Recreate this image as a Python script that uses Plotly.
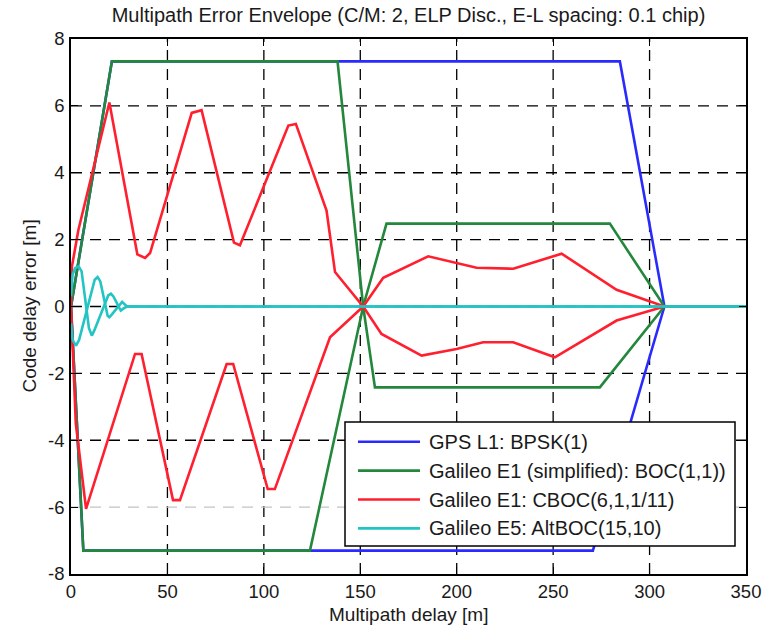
import plotly.graph_objects as go

# ---- multipath error envelopes (multipath delay [m] -> code delay error [m]) ----
# GPS L1: BPSK(1)
gps_delay_up = [0, 21.2, 284.6, 307.7, 350]
gps_err_up = [0, 7.33, 7.33, 0, 0]
gps_delay_lo = [0, 6.4, 270.6, 307.7, 350]
gps_err_lo = [0, -7.3, -7.3, 0, 0]

# Galileo E1 (simplified): BOC(1,1)
boc_delay_up = [0, 21.2, 138.2, 151.5, 157.6, 274.2, 307.7, 350]
boc_err_up = [0, 7.33, 7.33, 0, -2.42, -2.42, 0, 0]
boc_delay_lo = [0, 6.4, 123.9, 151.5, 163.6, 279.4, 307.7, 350]
boc_err_lo = [0, -7.3, -7.3, 0, 2.48, 2.48, 0, 0]

# Galileo E1: CBOC(6,1,1/11)
cboc_delay_up = [0, 0.5, 3.8, 19.9, 34.4, 38.4, 41.0, 62.6, 67.7, 84.5, 87.6,
                 112.7, 116.6, 132.5, 136.9, 151.5, 161.9, 185.2, 210.3, 229.3,
                 254.4, 282.9, 307.7, 350]
cboc_err_up = [0, 1.2, 2.28, 6.1, 1.56, 1.45, 1.6, 5.79, 5.87, 1.91, 1.83,
               5.41, 5.46, 2.87, 1.03, 0, 0.86, 1.5, 1.16, 1.13,
               1.58, 0.5, 0, 0]
cboc_delay_lo = [0, 0.5, 2.5, 7.8, 33.2, 36.6, 52.9, 56.5, 80.7, 84.1, 102.0,
                 105.7, 134.3, 151.5, 161.0, 181.8, 199.9, 213.7, 229.3, 250.9,
                 282.9, 307.7, 350]
cboc_err_lo = [0, -0.8, -3.5, -6.05, -1.42, -1.42, -5.79, -5.79, -1.72, -1.72, -5.46,
               -5.46, -0.92, 0, -0.82, -1.47, -1.27, -1.07, -1.07, -1.52,
               -0.42, 0, 0]

# Galileo E5: AltBOC(15,10)
alt_delay_up = [0, 0.8, 2.2, 4.0, 5.5, 9.3, 10.8, 12.2, 19.3, 20.7, 22.0, 25.8, 27.5, 29.0, 350]
alt_err_up = [0.3, 0.95, 1.15, 1.2, 1.05, -0.65, -0.87, -0.7, 0.33, 0.38, 0.3, -0.12, -0.05, 0, 0]
alt_delay_lo = [0, 0.8, 2.6, 4.2, 12.3, 13.8, 15.2, 19.0, 19.9, 21.0, 26.5, 28.0, 29.0, 350]
alt_err_lo = [-0.5, -1.0, -1.17, -1.0, 0.8, 0.88, 0.75, -0.28, -0.32, -0.25, 0.14, 0.05, 0, 0]

series_names = [
    "GPS L1: BPSK(1)",
    "Galileo E1 (simplified): BOC(1,1))",
    "Galileo E1: CBOC(6,1,1/11)",
    "Galileo E5: AltBOC(15,10)",
]
series_colors = ["#2a2aff", "#23873c", "#ff1f2e", "#22c4c4"]
envelopes = [
    ((gps_delay_up, gps_err_up), (gps_delay_lo, gps_err_lo)),
    ((boc_delay_up, boc_err_up), (boc_delay_lo, boc_err_lo)),
    ((cboc_delay_up, cboc_err_up), (cboc_delay_lo, cboc_err_lo)),
    ((alt_delay_up, alt_err_up), (alt_delay_lo, alt_err_lo)),
]

x_ticks = list(range(0, 351, 50))
y_ticks = list(range(-8, 9, 2))
x_tick_text = [str(v) for v in x_ticks]
y_tick_text = [str(v) for v in y_ticks]  # plain hyphen-minus labels

# ---- page geometry ----
W, H = 764, 628
ML, MR, MT, MB = 71, 18, 39, 54
PW, PH = W - ML - MR, H - MT - MB


def fx(xp):
    """pixel column -> paper x"""
    return (xp - ML) / PW


def fy(yp):
    """pixel row -> paper y"""
    return (H - MB - yp) / PH


FONT = "Liberation Sans, Arial, Helvetica, sans-serif"
TXT = "#1a1a1a"

fig = go.Figure()
for name, color, env in zip(series_names, series_colors, envelopes):
    for xs, ys in env:
        fig.add_trace(go.Scatter(
            x=xs, y=ys, mode="lines", name=name, legendgroup=name,
            showlegend=False, line=dict(color=color, width=2.6),
            hoverinfo="skip",
        ))

shapes = []
# dashed grid
for xv in x_ticks[1:-1]:
    shapes.append(dict(type="line", layer="below", xref="x", yref="paper",
                       x0=xv, x1=xv, y0=0, y1=1,
                       line=dict(color="black", width=1.3, dash="11px,8px")))
for yv in y_ticks[1:-1]:
    col = "#c4c4c4" if yv == -6 else "black"
    shapes.append(dict(type="line", layer="below", xref="paper", yref="y",
                       x0=0, x1=1, y0=yv, y1=yv,
                       line=dict(color=col, width=1.3, dash="11px,8px")))

# legend box
shapes.append(dict(type="rect", layer="above", xref="paper", yref="paper",
                   x0=fx(345), x1=fx(735), y0=fy(546), y1=fy(422),
                   fillcolor="white", line=dict(color="black", width=1.5)))
annotations = []
row0, step = 441.7, 28.9
for i, (name, color) in enumerate(zip(series_names, series_colors)):
    yr = row0 + i * step
    shapes.append(dict(type="line", layer="above", xref="paper", yref="paper",
                       x0=fx(358), x1=fx(420), y0=fy(yr), y1=fy(yr),
                       line=dict(color=color, width=2.6)))
    annotations.append(dict(text=name, xref="paper", yref="paper",
                            x=fx(427), y=fy(yr), xanchor="left", yanchor="middle",
                            showarrow=False, font=dict(family=FONT, size=20, color=TXT)))

# axis titles
annotations.append(dict(text="Multipath delay [m]", xref="paper", yref="paper",
                        x=0.5, y=fy(614), xanchor="center", yanchor="middle",
                        showarrow=False, font=dict(family=FONT, size=19, color=TXT)))
annotations.append(dict(text="Code delay error [m]", xref="paper", yref="paper",
                        x=fx(29), y=0.5, xanchor="center", yanchor="middle",
                        textangle=-90, showarrow=False,
                        font=dict(family=FONT, size=19, color=TXT)))

axis_common = dict(
    ticks="inside", ticklen=7, tickwidth=1.3, tickcolor="black",
    showline=True, linecolor="black", linewidth=1.5, mirror="allticks",
    showgrid=False, zeroline=False,
    tickfont=dict(family=FONT, size=18.5, color=TXT),
)

fig.update_layout(
    width=W, height=H,
    margin=dict(l=ML, r=MR, t=MT, b=MB, autoexpand=False),
    paper_bgcolor="white", plot_bgcolor="white",
    title=dict(text="Multipath Error Envelope (C/M: 2, ELP Disc., E-L spacing: 0.1 chip)",
               x=0.5, xref="paper", xanchor="center",
               y=1 - 15 / H, yref="container", yanchor="middle",
               font=dict(family=FONT, size=20, color=TXT)),
    xaxis=dict(range=[0, 350], tickvals=x_ticks, ticktext=x_tick_text,
               ticklabelstandoff=0, **axis_common),
    yaxis=dict(range=[-8, 8], tickvals=y_ticks, ticktext=y_tick_text,
               ticklabelstandoff=1, **axis_common),
    shapes=shapes,
    annotations=annotations,
    showlegend=False,
)

fig.write_html("out.html")
